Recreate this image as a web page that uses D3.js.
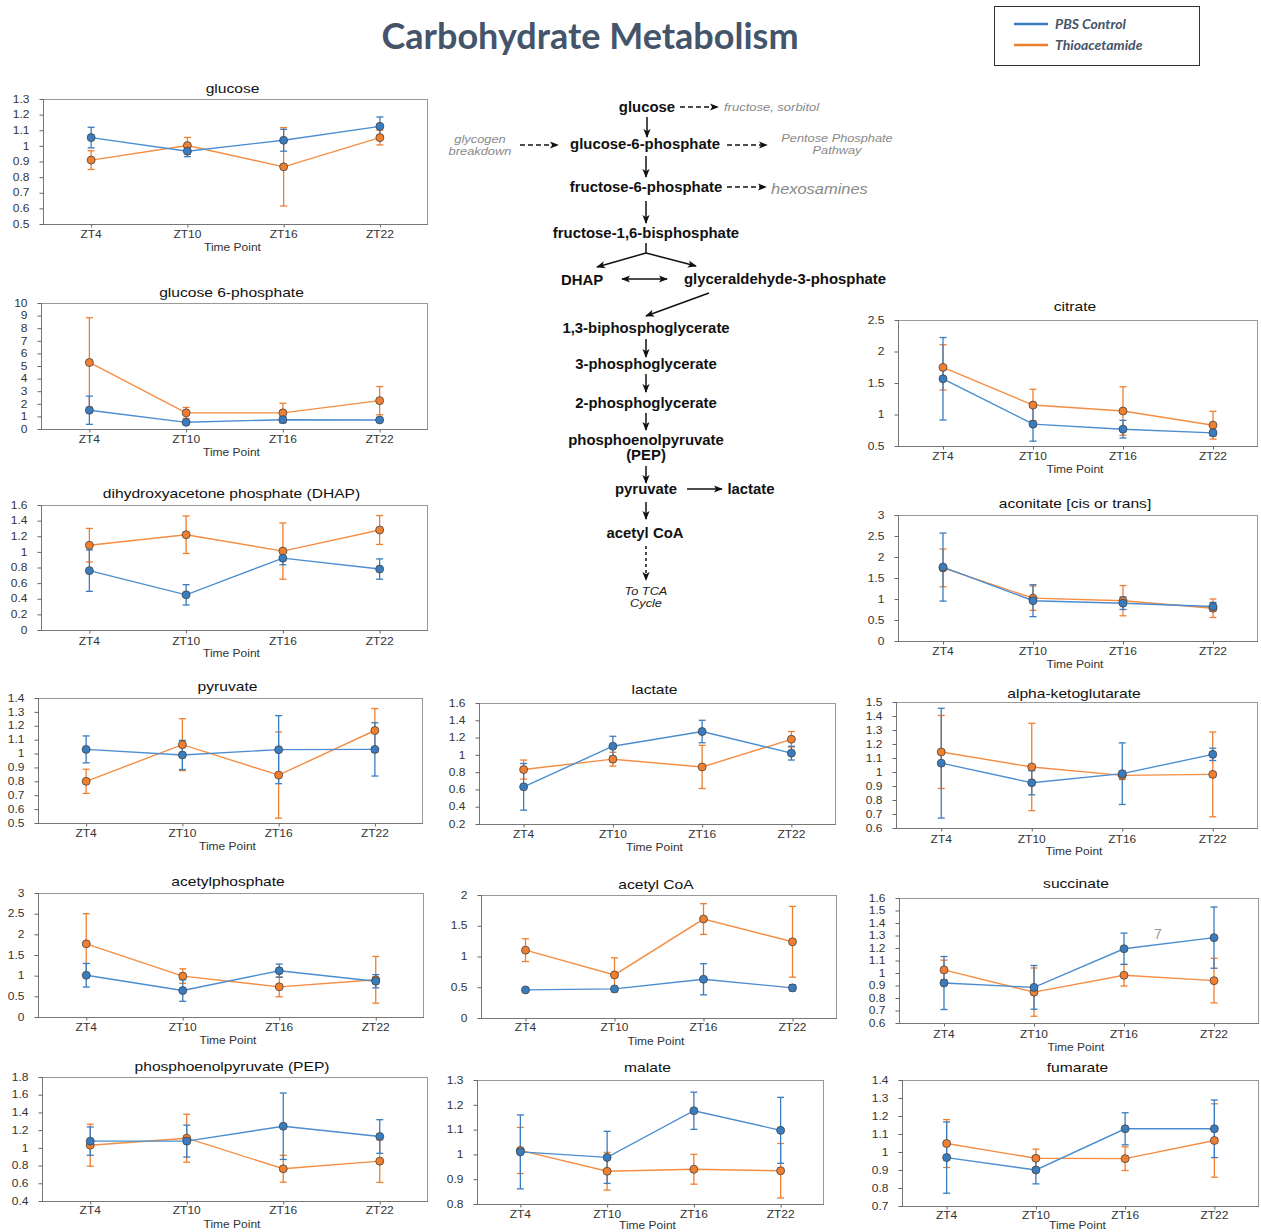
<!DOCTYPE html>
<html><head><meta charset="utf-8">
<script src="https://cdn.jsdelivr.net/npm/d3@7"></script>
<style>body{margin:0;background:#fff} svg{display:block}</style>
</head><body><svg id="c" width="1261" height="1232"></svg>
<script>
// ---------------- DATA ----------------
const timePoints = ["ZT4", "ZT10", "ZT16", "ZT22"];
const seriesNames = ["PBS Control", "Thioacetamide"];
const chartTitle = "Carbohydrate Metabolism";

const glucosePBS = [1.053, 0.966, 1.036, 1.125];
const glucosePBSErr = [0.066, 0.035, 0.07, 0.06];
const glucoseTAA = [0.909, 1.002, 0.866, 1.053];
const glucoseTAAErr = [0.06, 0.052, 0.251, 0.047];
const glucoseTicks = [0.5, 0.6, 0.7, 0.8, 0.9, 1, 1.1, 1.2, 1.3];

const g6pPBS = [1.49, 0.53, 0.74, 0.72];
const g6pPBSErr = [1.12, 0.07, 0.25, 0.06];
const g6pTAA = [5.28, 1.28, 1.28, 2.25];
const g6pTAAErr = [3.55, 0.43, 0.76, 1.12];
const g6pTicks = [0, 1, 2, 3, 4, 5, 6, 7, 8, 9, 10];

const dhapPBS = [0.76, 0.45, 0.92, 0.78];
const dhapPBSErr = [0.265, 0.13, 0.085, 0.13];
const dhapTAA = [1.085, 1.22, 1.01, 1.28];
const dhapTAAErr = [0.215, 0.24, 0.36, 0.185];
const dhapTicks = [0, 0.2, 0.4, 0.6, 0.8, 1, 1.2, 1.4, 1.6];

const pyruvatePBS = [1.03, 0.99, 1.028, 1.03];
const pyruvatePBSErr = [0.097, 0.105, 0.245, 0.192];
const pyruvateTAA = [0.80, 1.064, 0.845, 1.166];
const pyruvateTAAErr = [0.087, 0.187, 0.31, 0.158];
const pyruvateTicks = [0.5, 0.6, 0.7, 0.8, 0.9, 1, 1.1, 1.2, 1.3, 1.4];

const lactatePBS = [0.63, 1.10, 1.27, 1.02];
const lactatePBSErr = [0.27, 0.115, 0.13, 0.08];
const lactateTAA = [0.83, 0.95, 0.86, 1.18];
const lactateTAAErr = [0.11, 0.08, 0.25, 0.09];
const lactateTicks = [0.2, 0.4, 0.6, 0.8, 1, 1.2, 1.4, 1.6];

const citratePBS = [1.567, 0.847, 0.767, 0.708];
const citratePBSErr = [0.655, 0.27, 0.14, 0.045];
const citrateTAA = [1.748, 1.15, 1.055, 0.83];
const citrateTAAErr = [0.36, 0.25, 0.385, 0.22];
const citrateTicks = [0.5, 1, 1.5, 2, 2.5];

const aconitatePBS = [1.76, 0.96, 0.90, 0.82];
const aconitatePBSErr = [0.81, 0.38, 0.15, 0.1];
const aconitateTAA = [1.74, 1.02, 0.96, 0.78];
const aconitateTAAErr = [0.45, 0.29, 0.36, 0.22];
const aconitateTicks = [0, 0.5, 1, 1.5, 2, 2.5, 3];

const akgPBS = [1.063, 0.923, 0.988, 1.126];
const akgPBSErr = [0.392, 0.086, 0.22, 0.044];
const akgTAA = [1.143, 1.036, 0.976, 0.983];
const akgTAAErr = [0.261, 0.312, 0.03, 0.303];
const akgTicks = [0.6, 0.7, 0.8, 0.9, 1, 1.1, 1.2, 1.3, 1.4, 1.5];

const acpPBS = [1.01, 0.64, 1.12, 0.866];
const acpPBSErr = [0.285, 0.26, 0.16, 0.16];
const acpTAA = [1.77, 0.99, 0.73, 0.90];
const acpTAAErr = [0.73, 0.175, 0.24, 0.565];
const acpTicks = [0, 0.5, 1, 1.5, 2, 2.5, 3];

const accoaPBS = [0.457, 0.473, 0.63, 0.49];
const accoaPBSErr = [0.01, 0.03, 0.253, 0.05];
const accoaTAA = [1.103, 0.70, 1.609, 1.239];
const accoaTAAErr = [0.185, 0.278, 0.25, 0.575];
const accoaTicks = [0, 0.5, 1, 1.5, 2];

const succinatePBS = [0.92, 0.885, 1.194, 1.283];
const succinatePBSErr = [0.212, 0.175, 0.125, 0.245];
const succinateTAA = [1.025, 0.847, 0.982, 0.939];
const succinateTAAErr = [0.078, 0.193, 0.086, 0.178];
const succinateTicks = [0.6, 0.7, 0.8, 0.9, 1, 1.1, 1.2, 1.3, 1.4, 1.5, 1.6];

const pepPBS = [1.076, 1.076, 1.244, 1.128];
const pepPBSErr = [0.16, 0.18, 0.375, 0.19];
const pepTAA = [1.03, 1.109, 0.764, 0.85];
const pepTAAErr = [0.237, 0.27, 0.152, 0.24];
const pepTicks = [0.4, 0.6, 0.8, 1, 1.2, 1.4, 1.6, 1.8];

const malatePBS = [1.01, 0.988, 1.176, 1.097];
const malatePBSErr = [0.149, 0.105, 0.075, 0.133];
const malateTAA = [1.016, 0.932, 0.94, 0.934];
const malateTAAErr = [0.093, 0.076, 0.06, 0.11];
const malateTicks = [0.8, 0.9, 1, 1.1, 1.2, 1.3];

const fumaratePBS = [0.969, 0.90, 1.129, 1.129];
const fumaratePBSErr = [0.198, 0.077, 0.089, 0.16];
const fumarateTAA = [1.047, 0.965, 0.963, 1.064];
const fumarateTAAErr = [0.133, 0.051, 0.066, 0.204];
const fumarateTicks = [0.7, 0.8, 0.9, 1, 1.1, 1.2, 1.3, 1.4];

// ---------------- STYLE / LAYOUT ----------------
const COL_PBS = "#3a7cc0", COL_TAA = "#f07f30";
const LINE_PBS = "#4b8dd0", LINE_TAA = "#f58d42";
const STRETCH = 1.2;
const FONT = "'Liberation Sans', Arial, sans-serif";

const svg = d3.select("#c");

function sText(parent, x, y, str, o = {}) {
  return parent.append("text")
    .attr("transform", `translate(${x},${y}) scale(${o.k || STRETCH},1)`)
    .attr("text-anchor", o.anchor || "middle")
    .attr("font-family", o.family || FONT)
    .attr("font-size", o.size || 10)
    .attr("font-style", o.style || "normal")
    .attr("font-weight", o.weight || "normal")
    .attr("fill", o.fill || "#222")
    .text(str);
}

const panels = [
  {title: "glucose", pbs: glucosePBS, pe: glucosePBSErr, taa: glucoseTAA, te: glucoseTAAErr, ticks: glucoseTicks, box: [43, 99, 428, 224], ty: 89, xl: 234, tp: 247},
  {title: "glucose 6-phosphate", pbs: g6pPBS, pe: g6pPBSErr, taa: g6pTAA, te: g6pTAAErr, ticks: g6pTicks, box: [41, 303, 428, 429], ty: 293, xl: 439, tp: 452},
  {title: "dihydroxyacetone phosphate (DHAP)", pbs: dhapPBS, pe: dhapPBSErr, taa: dhapTAA, te: dhapTAAErr, ticks: dhapTicks, box: [41, 505, 428, 630], ty: 494, xl: 641, tp: 653},
  {title: "pyruvate", pbs: pyruvatePBS, pe: pyruvatePBSErr, taa: pyruvateTAA, te: pyruvateTAAErr, ticks: pyruvateTicks, box: [38, 698, 423, 823], ty: 687, xl: 833, tp: 846},
  {title: "lactate", pbs: lactatePBS, pe: lactatePBSErr, taa: lactateTAA, te: lactateTAAErr, ticks: lactateTicks, box: [479, 703, 836, 824], ty: 690, xl: 834, tp: 847},
  {title: "citrate", pbs: citratePBS, pe: citratePBSErr, taa: citrateTAA, te: citrateTAAErr, ticks: citrateTicks, box: [898, 320, 1258, 446], ty: 307, xl: 456, tp: 469},
  {title: "aconitate [cis or trans]", pbs: aconitatePBS, pe: aconitatePBSErr, taa: aconitateTAA, te: aconitateTAAErr, ticks: aconitateTicks, box: [898, 515, 1258, 641], ty: 504, xl: 651, tp: 664},
  {title: "alpha-ketoglutarate", pbs: akgPBS, pe: akgPBSErr, taa: akgTAA, te: akgTAAErr, ticks: akgTicks, box: [896, 702, 1258, 828], ty: 694, xl: 839, tp: 851},
  {title: "acetylphosphate", pbs: acpPBS, pe: acpPBSErr, taa: acpTAA, te: acpTAAErr, ticks: acpTicks, box: [38, 893, 424, 1017], ty: 882, xl: 1027, tp: 1040},
  {title: "acetyl CoA", pbs: accoaPBS, pe: accoaPBSErr, taa: accoaTAA, te: accoaTAAErr, ticks: accoaTicks, box: [481, 895, 837, 1018], ty: 885, xl: 1027, tp: 1041},
  {title: "succinate", pbs: succinatePBS, pe: succinatePBSErr, taa: succinateTAA, te: succinateTAAErr, ticks: succinateTicks, box: [899, 898, 1259, 1023], ty: 884, xl: 1034, tp: 1047},
  {title: "phosphoenolpyruvate (PEP)", pbs: pepPBS, pe: pepPBSErr, taa: pepTAA, te: pepTAAErr, ticks: pepTicks, box: [42, 1077, 428, 1201], ty: 1067, xl: 1210, tp: 1224},
  {title: "malate", pbs: malatePBS, pe: malatePBSErr, taa: malateTAA, te: malateTAAErr, ticks: malateTicks, box: [477, 1080, 824, 1204], ty: 1068, xl: 1214, tp: 1225},
  {title: "fumarate", pbs: fumaratePBS, pe: fumaratePBSErr, taa: fumarateTAA, te: fumarateTAAErr, ticks: fumarateTicks, box: [902, 1080, 1259, 1206], ty: 1068, xl: 1215, tp: 1225}
];

function drawPanel(p) {
  const [L, T, R, B] = p.box;
  const g = svg.append("g");
  const x = d3.scalePoint().domain(timePoints).range([L, R]).padding(0.5);
  const y = d3.scaleLinear().domain([p.ticks[0], p.ticks[p.ticks.length - 1]]).range([B, T]);
  const cx = (L + R) / 2 - 3;

  // frame
  g.append("rect").attr("x", L + 0.5).attr("y", T + 0.5).attr("width", R - L - 1).attr("height", B - T)
    .attr("fill", "none").attr("stroke", "#999").attr("stroke-width", 1);
  g.append("line").attr("x1", L + 0.5).attr("x2", L + 0.5).attr("y1", T).attr("y2", B + 0.5).attr("stroke", "#777");
  g.append("line").attr("x1", L).attr("x2", R).attr("y1", B + 0.5).attr("y2", B + 0.5).attr("stroke", "#777");

  // y axis
  const ya = g.append("g").attr("transform", `translate(${L + 0.5},0)`)
    .call(d3.axisLeft(y).tickValues(p.ticks).tickSize(4).tickPadding(10).tickFormat(d3.format("~g")));
  ya.select(".domain").remove();
  ya.selectAll("line").attr("stroke", "#666");
  ya.selectAll("text").each(function () {
    const t = d3.select(this);
    const tx = +t.attr("x");
    t.attr("x", tx / STRETCH).attr("transform", `scale(${STRETCH},1)`);
  }).attr("font-family", FONT).attr("font-size", 10).attr("fill", "#333");

  // x axis
  const xa = g.append("g").attr("transform", `translate(0,${B + 0.5})`)
    .call(d3.axisBottom(x).tickSize(3).tickFormat(""));
  xa.select(".domain").remove();
  xa.selectAll("line").attr("stroke", "#666");
  timePoints.forEach(tpn => sText(g, x(tpn), p.xl + 3.5, tpn, {size: 10, fill: "#333"}));
  sText(g, cx, p.tp + 3.5, "Time Point", {size: 10, fill: "#333"});

  // title
  sText(g, cx, p.ty + 4, p.title, {size: 13, fill: "#111"});

  const series = [
    {vals: p.taa, err: p.te, col: COL_TAA, line: LINE_TAA},
    {vals: p.pbs, err: p.pe, col: COL_PBS, line: LINE_PBS}
  ];
  series.forEach(s => {
    const pts = timePoints.map((t, i) => ({t, v: s.vals[i], e: s.err[i]}));
    g.append("path").datum(pts)
      .attr("d", d3.line().x(d => x(d.t)).y(d => y(d.v)))
      .attr("fill", "none").attr("stroke", s.line).attr("stroke-width", 1.4);
    const eb = g.append("g").attr("stroke", s.col).attr("stroke-width", 1.3);
    pts.forEach(d => {
      const px = x(d.t), y1 = y(d.v + d.e), y2 = y(d.v - d.e);
      eb.append("line").attr("x1", px).attr("x2", px).attr("y1", y1).attr("y2", y2);
      eb.append("line").attr("x1", px - 3.5).attr("x2", px + 3.5).attr("y1", y1).attr("y2", y1);
      eb.append("line").attr("x1", px - 3.5).attr("x2", px + 3.5).attr("y1", y2).attr("y2", y2);
    });
  });
  series.forEach(s => {
    g.selectAll(null).data(timePoints.map((t, i) => ({t, v: s.vals[i]}))).enter()
      .append("circle").attr("cx", d => x(d.t)).attr("cy", d => y(d.v)).attr("r", 4)
      .attr("fill", s.col).attr("stroke", "#444").attr("stroke-width", 0.8);
  });
  return {x, y};
}

panels.forEach(drawPanel);

// stray mark in succinate panel
sText(svg, 1158, 939, "7", {size: 14, fill: "#999", k: 1});

// ---------------- TITLE & LEGEND ----------------
svg.append("text").attr("x", 590).attr("y", 49).attr("text-anchor", "middle")
  .attr("font-family", "Lato, 'Open Sans', sans-serif").attr("font-weight", "bold")
  .attr("font-size", 36).attr("fill", "#44546a").text(chartTitle);

const lg = svg.append("g");
lg.append("rect").attr("x", 994.5).attr("y", 6.5).attr("width", 205).attr("height", 59)
  .attr("fill", "#fff").attr("stroke", "#333").attr("stroke-width", 1);
[[COL_PBS, 24], [COL_TAA, 45]].forEach(([c, yy], i) => {
  lg.append("line").attr("x1", 1014).attr("x2", 1048).attr("y1", yy).attr("y2", yy)
    .attr("stroke", c).attr("stroke-width", 2.5);
  lg.append("text").attr("x", 1055).attr("y", yy + 5).attr("font-family", "Lato, sans-serif")
    .attr("font-style", "italic").attr("font-weight", "bold").attr("font-size", 14)
    .attr("fill", "#44546a").text(seriesNames[i]);
});

// ---------------- PATHWAY DIAGRAM ----------------
const defs = svg.append("defs");
defs.append("marker").attr("id", "arr").attr("viewBox", "0 0 10 10").attr("refX", 9).attr("refY", 5)
  .attr("markerUnits", "userSpaceOnUse").attr("markerWidth", 9).attr("markerHeight", 9)
  .attr("orient", "auto-start-reverse")
  .append("path").attr("d", "M0,1 L10,5 L0,9 L2.5,5 Z").attr("fill", "#111");

const pw = svg.append("g");
function node(str, cx, cy) {
  sText(pw, cx, cy + 5, str, {size: 14, weight: "bold", fill: "#111", k: 1.065});
}
function side(str, x, cy, size, anchor, fill) {
  sText(pw, x, cy + size * 0.35, str, {size, anchor, style: "italic", fill: fill || "#8a8a8a", k: 1.15});
}
function arrow(x1, y1, x2, y2, dash, both) {
  const l = pw.append("line").attr("x1", x1).attr("y1", y1).attr("x2", x2).attr("y2", y2)
    .attr("stroke", "#111").attr("stroke-width", 1.5).attr("marker-end", "url(#arr)");
  if (dash) l.attr("stroke-dasharray", dash);
  if (both) l.attr("marker-start", "url(#arr)");
}
function seg(x1, y1, x2, y2) {
  pw.append("line").attr("x1", x1).attr("y1", y1).attr("x2", x2).attr("y2", y2)
    .attr("stroke", "#111").attr("stroke-width", 1.5);
}

node("glucose", 647, 107);
node("glucose-6-phosphate", 645, 144);
node("fructose-6-phosphate", 646, 187);
node("fructose-1,6-bisphosphate", 646, 233);
node("DHAP", 582, 280);
node("glyceraldehyde-3-phosphate", 785, 279);
node("1,3-biphosphoglycerate", 646, 328);
node("3-phosphoglycerate", 646, 364);
node("2-phosphoglycerate", 646, 403);
node("phosphoenolpyruvate", 646, 440);
node("(PEP)", 646, 455);
node("pyruvate", 646, 489);
node("lactate", 751, 489);
node("acetyl CoA", 645, 533);

side("fructose, sorbitol", 724, 107, 11.3, "start");
side("glycogen", 480, 139, 11.2, "middle");
side("breakdown", 480, 151, 11.2, "middle");
side("Pentose Phosphate", 837, 138, 11.1, "middle");
side("Pathway", 837, 150, 11.1, "middle");
side("hexosamines", 771, 189, 14.3, "start");
side("To TCA", 646, 591, 11.1, "middle", "#222");
side("Cycle", 646, 603, 11.1, "middle", "#222");

arrow(680, 107, 718, 107, "5,3");
arrow(520, 145, 558, 145, "5,3");
arrow(727, 145, 767, 145, "5,3");
arrow(727, 187, 766, 187, "5,3");
arrow(647, 117, 647, 137);
arrow(646, 156, 646, 177);
arrow(646, 201, 646, 223);
seg(646, 243, 646, 253);
arrow(646, 253, 597, 267);
arrow(646, 253, 696, 266);
arrow(622, 279, 667, 279, null, true);
arrow(709, 293, 646, 316);
arrow(646, 339, 646, 357);
arrow(646, 374, 646, 392);
arrow(646, 413, 646, 430);
arrow(646, 466, 646, 483);
arrow(646, 502, 646, 519);
arrow(687, 489, 722, 489);
arrow(646, 546, 646, 580, "3,3");
</script>
</body></html>
